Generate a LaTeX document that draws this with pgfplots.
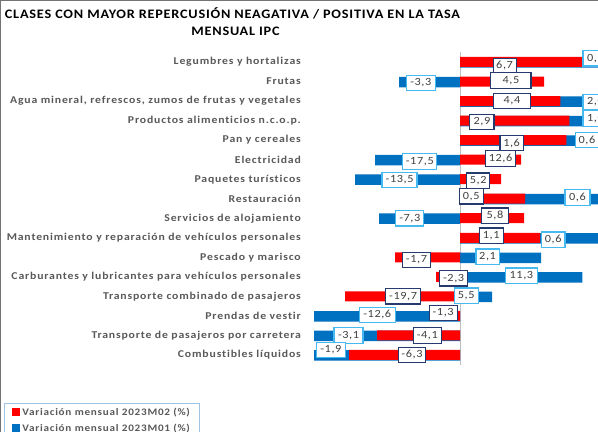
\documentclass[border=0pt]{standalone}
\usepackage{pgfplots}
\pgfplotsset{compat=1.18}
\usepackage{pgfplotstable}
\usepackage{fontspec}
\setmainfont{Carlito}[FakeStretch=1.12, LetterSpace=8, Ligatures=NoCommon]
\newfontfamily\titlefont{Carlito}[FakeStretch=1.1, LetterSpace=6, Ligatures=NoCommon]
\newfontfamily\lblfont{Carlito}[FakeStretch=1.12, LetterSpace=5.5, Ligatures=NoCommon]
\newfontfamily\legfont{Carlito}[FakeStretch=1.12, LetterSpace=7.5, Ligatures=NoCommon]

\definecolor{barred}{RGB}{255,0,0}
\definecolor{barblue}{RGB}{0,112,192}
\definecolor{navyb}{RGB}{38,58,110}
\definecolor{skyb}{RGB}{70,185,240}
\definecolor{txtgray}{RGB}{89,89,89}
\definecolor{lblgray}{RGB}{64,64,64}
\definecolor{legb}{RGB}{157,195,230}

% bar lengths (row, value)
\pgfplotstableread{
row val
0   145
1   -61
2   145
3   145
4   125
5   -85
6   -105
7   145
8   -81
9   145
10  81
11  122
12  32
13  -146
14  -146
15  -146
}\bluebars
\pgfplotstableread{
row val
0   122
1   84
2   100
3   109
4   106
5   61
6   41
7   65
8   64
9   80
10  -65
11  -24
12  -115
13  -3
14  -83
15  -111
}\redbars

% data labels (x, y, box width, text)
\pgfplotstableread{
x      y       w     lab
135.2  -0.189  25    0,1
-39.3  1.077   29    -3,3
135.2  2.051   25    2,0
135.2  2.898   25    1,0
126.7  4.0     23.5  0,6
-40.3  5.102   34    -17,5
-60.5  6.041   35    -13,5
117.2  6.939   25    0,6
-50.3  8.0     28    -7,3
93.0   9.102   23.3  0,6
27.4   9.969   23.3  2,1
61.2   10.949  31.7  11,3
6.0    11.969  24    5,5
-82.8  12.949  36.3  -12,6
-111.5 14.0    29    -3,1
-129.1 14.744  29    -1,9
}\bluelabels
\pgfplotstableread{
x      y       w     lab
44.4   0.205   23    6,7
50.7   0.949   40.3  4,5
51.7   2.0     37    4,4
21.7   3.077   24.3  2,9
51.4   4.154   23.3  1,6
40.4   4.949   30    12,6
18.0   6.082   23.3  5,2
11.0   6.872   24    0,5
34.7   7.877   26.7  5,8
31.0   8.898   24    1,1
-43.6  10.138  28    -1,7
-6.5   11.077  27.7  -2,3
-57.0  12.0    34.7  -19,7
-17.0  12.846  28    -1,3
-32.8  14.0    28.3  -4,1
-48.1  15.0    27.7  -6,3
}\redlabels

\begin{document}
\begin{tikzpicture}
\useasboundingbox (0,0) rectangle (598bp,-432bp);
\clip (0,0) rectangle (598bp,-432bp);
\fill[white] (0,0) rectangle (598bp,-432bp);
\draw[line width=1bp, black!55] (0.5bp,-432bp) -- (0.5bp,-0.5bp) -- (598bp,-0.5bp);

\node[anchor=base, font=\titlefont\bfseries\fontsize{13}{15}\selectfont] at (232.5bp,-18.5bp)
  {CLASES CON MAYOR REPERCUSIÓN NEAGATIVA / POSITIVA EN LA TASA};
\node[anchor=base, font=\titlefont\bfseries\fontsize{13}{15}\selectfont] at (235.5bp,-35bp)
  {MENSUAL IPC};

\begin{axis}[
  at={(314bp,-52.2bp)}, anchor=north west,
  scale only axis, width=284bp, height=312.5bp,
  xmin=-146, xmax=137.7, ymin=-0.5, ymax=15.5,
  y dir=reverse, clip=false,
  axis line style={draw=none},
  xtick=\empty, ytick={0,...,15},
  yticklabels={Legumbres y hortalizas, Frutas,
    {Agua mineral, refrescos, zumos de frutas y vegetales},
    Productos alimenticios n.c.o.p., Pan y cereales, Electricidad,
    Paquetes turísticos, Restauración, Servicios de alojamiento,
    Mantenimiento y reparación de vehículos personales, Pescado y marisco,
    Carburantes y lubricantes para vehículos personales,
    Transporte combinado de pasajeros, Prendas de vestir,
    Transporte de pasajeros por carretera, Combustibles líquidos},
  major tick length=0pt,
  yticklabel style={font=\bfseries\fontsize{10.5}{12}\selectfont, text=txtgray,
    anchor=east, inner sep=0pt, xshift=-13bp},
  reverse legend,
  legend style={at={(-1.0915,-0.1222)}, anchor=north west, draw=legb,
    line width=0.8bp, font=\legfont\bfseries\fontsize{10}{11}\selectfont,
    text=txtgray, row sep=3bp, inner xsep=8bp, inner ysep=2.5bp},
  legend cell align=left,
  legend image code/.code={\fill[#1] (0bp,-4bp) rectangle (8bp,4bp);},
]
\draw[black!25, line width=0.8bp] (axis cs:0,-0.5) -- (axis cs:0,15.5);

\addplot[xbar, bar width=10.5bp, bar shift=-0.5bp, fill=barblue, draw=none]
  table[x=val, y=row] {\bluebars};
\addlegendentry{Variación mensual 2023M01 (\%)}
\addplot[xbar, bar width=10bp, bar shift=0bp, fill=barred, draw=none]
  table[x=val, y=row] {\redbars};
\addlegendentry{Variación mensual 2023M02 (\%)}

\addplot[forget plot, draw=none, nodes near coords, point meta=explicit symbolic,
  visualization depends on={\thisrow{w} \as \labw},
  every node near coord/.append style={anchor=center, fill=white,
    font=\lblfont\fontsize{11}{13}\selectfont, text=lblgray, line width=1.2bp,
    inner xsep=1bp, inner ysep=1bp, minimum height=15.5bp,
    minimum width=\labw*1bp, draw=skyb}]
  table[x=x, y=y, meta=lab] {\bluelabels};
\addplot[forget plot, draw=none, nodes near coords, point meta=explicit symbolic,
  visualization depends on={\thisrow{w} \as \labw},
  every node near coord/.append style={anchor=center, fill=white,
    font=\lblfont\fontsize{11}{13}\selectfont, text=lblgray, line width=1.2bp,
    inner xsep=1bp, inner ysep=1bp, minimum height=15.5bp,
    minimum width=\labw*1bp, draw=navyb}]
  table[x=x, y=y, meta=lab] {\redlabels};
\end{axis}
\end{tikzpicture}
\end{document}
